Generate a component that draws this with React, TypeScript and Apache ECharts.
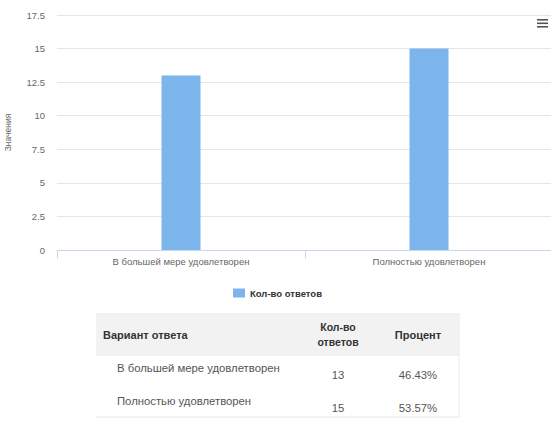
import React, { useEffect, useRef } from "react";
import * as echarts from "echarts";

const categories = ["В большей мере удовлетворен", "Полностью удовлетворен"];
const seriesName = "Кол-во ответов";
const values = [13, 15];
const percents = ["46.43%", "53.57%"];
const yTicks = [0, 2.5, 5, 7.5, 10, 12.5, 15, 17.5];
const yAxisTitle = "Значения";
const tableHeaders = ["Вариант ответа", "Кол-во\nответов", "Процент"];

const FONT = "'Liberation Sans', Arial, sans-serif";

export default function App() {
  const ref = useRef<HTMLDivElement>(null);
  useEffect(() => {
    if (!ref.current) return;
    const chart = echarts.init(ref.current, null, { renderer: "svg" });

    const tableLeft = 96;
    const tableRight = 459;
    const headerTop = 313;
    const headerH = 43;
    const rowYs = [368, 401];
    const numYs = [375, 408];
    const col2X = 338;
    const col3X = 418;

    const graphics: any[] = [
      ...[0, 1, 2].map((i) => ({
        type: "rect",
        shape: { x: 537, y: 19 + i * 3.5, width: 11, height: 1.6 },
        style: { fill: "#555" },
      })),
      {
        type: "rect",
        shape: { x: tableLeft, y: headerTop, width: tableRight - tableLeft, height: headerH },
        style: { fill: "#f2f2f2" },
      },
      {
        type: "line",
        shape: { x1: tableLeft, y1: 417, x2: tableRight, y2: 417 },
        style: { stroke: "#e6e6e6", lineWidth: 1 },
      },
      {
        type: "line",
        shape: { x1: tableRight, y1: headerTop, x2: tableRight, y2: 417 },
        style: { stroke: "#ececec", lineWidth: 1 },
      },
      {
        type: "text",
        style: {
          text: tableHeaders[0], x: 103, y: headerTop + headerH / 2,
          verticalAlign: "middle", font: `bold 11px ${FONT}`, fill: "#333",
        },
      },
      {
        type: "text",
        style: {
          text: tableHeaders[1], x: col2X, y: headerTop + headerH / 2,
          align: "center", verticalAlign: "middle", font: `bold 10.5px ${FONT}`, fill: "#333", lineHeight: 15,
        },
      },
      {
        type: "text",
        style: {
          text: tableHeaders[2], x: col3X, y: headerTop + headerH / 2,
          align: "center", verticalAlign: "middle", font: `bold 11px ${FONT}`, fill: "#333",
        },
      },
    ];
    categories.forEach((c, i) => {
      graphics.push({
        type: "text",
        style: { text: c, x: 117, y: rowYs[i], verticalAlign: "middle", font: `11.3px ${FONT}`, fill: "#555" },
      });
      graphics.push({
        type: "text",
        style: { text: String(values[i]), x: col2X, y: numYs[i], align: "center", verticalAlign: "middle", font: `11.3px ${FONT}`, fill: "#555" },
      });
      graphics.push({
        type: "text",
        style: { text: percents[i], x: col3X, y: numYs[i], align: "center", verticalAlign: "middle", font: `11.3px ${FONT}`, fill: "#555" },
      });
    });

    chart.setOption({
      animation: false,
      backgroundColor: "#ffffff",
      textStyle: { fontFamily: FONT },
      grid: { left: 57, right: -2, top: 15, bottom: 171, containLabel: false, outerBoundsMode: "none" },
      legend: {
        data: [seriesName],
        left: 228,
        top: 283,
        icon: "rect",
        itemWidth: 12,
        itemHeight: 9,
        itemGap: 10,
        textStyle: { fontSize: 9.5, fontWeight: "bold", color: "#333", fontFamily: FONT },
      },
      xAxis: {
        type: "category",
        data: categories,
        axisLine: { lineStyle: { color: "#ccd6eb" } },
        axisTick: { show: true, length: 8, lineStyle: { color: "#ccd6eb" } },
        axisLabel: { fontSize: 9.5, color: "#666", margin: 6, fontFamily: FONT },
      },
      yAxis: {
        type: "value",
        min: yTicks[0],
        max: yTicks[yTicks.length - 1],
        interval: 2.5,
        name: yAxisTitle,
        nameLocation: "middle",
        nameGap: 45,
        nameRotate: 90,
        nameTextStyle: { fontSize: 8.5, color: "#666", fontFamily: FONT },
        axisLine: { show: false },
        axisTick: { show: false },
        axisLabel: { fontSize: 9.5, color: "#666", margin: 12, fontFamily: FONT },
        splitLine: { lineStyle: { color: "#e6e6e6" } },
      },
      series: [
        {
          name: seriesName,
          type: "bar",
          data: values,
          barWidth: 39,
          itemStyle: { color: "#7cb5ec" },
        },
      ],
      graphic: graphics,
    });
    return () => chart.dispose();
  }, []);

  return (
    <div
      ref={ref}
      style={{ position: "absolute", left: 0, top: 0, width: 551, height: 421, background: "#fff" }}
    />
  );
}
